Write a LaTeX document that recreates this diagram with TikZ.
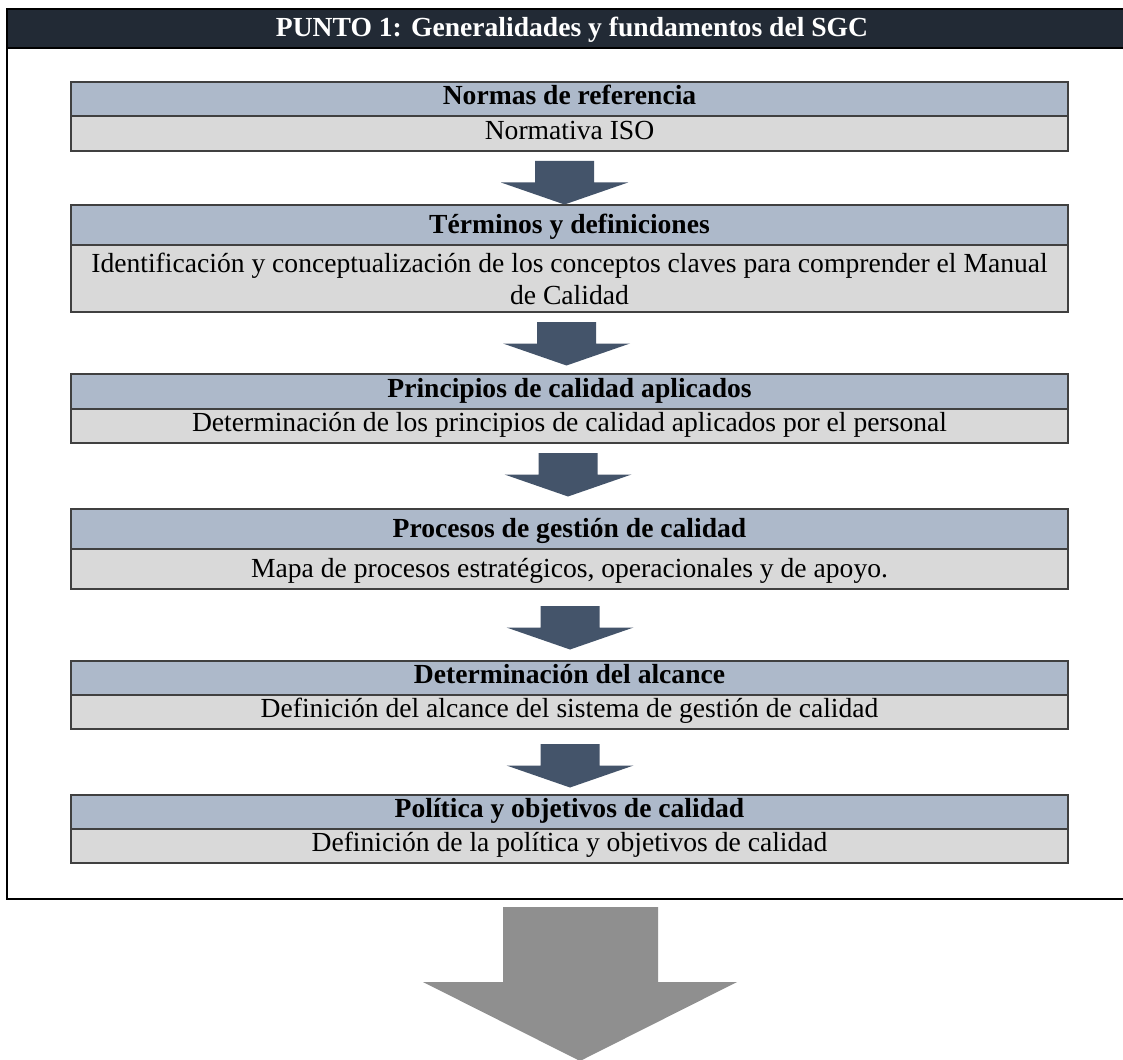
\documentclass[tikz,border=0pt]{standalone}
\usepackage{fontspec}
\setmainfont{Liberation Serif}
\definecolor{titlebar}{HTML}{222A35}
\definecolor{headfill}{HTML}{ADB9CA}
\definecolor{bodyfill}{HTML}{D9D9D9}
\definecolor{boxline}{HTML}{404040}
\definecolor{stepblue}{HTML}{44546A}
\definecolor{biggray}{HTML}{8F8F8F}
\begin{document}
\begin{tikzpicture}[x=1pt,y=-1pt,
  every node/.style={inner sep=0pt, outer sep=0pt},
  txt/.style={font=\fontsize{27.6}{32}\selectfont},
  band/.style={draw=boxline, line width=1.4pt, minimum width=997pt, txt, text depth=7pt},
  headband/.style={band, fill=headfill, font=\fontsize{27.6}{32}\selectfont\bfseries},
  bodyband/.style={band, fill=bodyfill},
  pics/flowdown/.style={code={
    \fill[stepblue] (-29.5,0) -- (29.5,0) -- (29.5,21.5) -- (63.5,21.5)
      -- (0,43.5) -- (-63.5,21.5) -- (-29.5,21.5) -- cycle;
  }}
]
\useasboundingbox (0,0) rectangle (1123,1059);
\fill[white] (0,0) rectangle (1123,1059);

% outer frame and title bar
\draw[black, line width=2.6pt] (7,9) rectangle (1140,899);
\draw[black, line width=2pt, fill=titlebar] (7,9) rectangle (1140,48);
\node[anchor=base, text=white, font=\fontsize{27.6}{32}\selectfont\bfseries] (title) at (572,37)
  {PUNTO 1: Generalidades y fundamentos del SGC};

% step 1
\node[headband, minimum height=34pt, text height=18pt] (h1) at (569.5,99) {Normas de referencia};
\node[bodyband, minimum height=35pt, text height=19pt] (b1) at (569.5,133.5) {Normativa ISO};

% step 2
\node[headband, minimum height=40pt, text height=24pt] (h2) at (569.5,225) {Términos y definiciones};
\node[bodyband, minimum height=67pt, text depth=, align=center] (b2) at (569.5,278.5)
  {Identificación y conceptualización de los conceptos claves para comprender el Manual\\de Calidad};

% step 3
\node[headband, minimum height=35pt, text height=19pt] (h3) at (569.5,391.5) {Principios de calidad aplicados};
\node[bodyband, minimum height=34pt, text height=18pt] (b3) at (569.5,426)
  {Determinación de los principios de calidad aplicados por el personal};

% step 4
\node[headband, minimum height=40pt, text height=24pt] (h4) at (569.5,529) {Procesos de gestión de calidad};
\node[bodyband, minimum height=40pt, text height=24pt] (b4) at (569.5,569)
  {Mapa de procesos estratégicos, operacionales y de apoyo.};

% step 5
\node[headband, minimum height=34pt, text height=18pt] (h5) at (569.5,678) {Determinación del alcance};
\node[bodyband, minimum height=34pt, text height=18pt] (b5) at (569.5,712)
  {Definición del alcance del sistema de gestión de calidad};

% step 6
\node[headband, minimum height=34pt, text height=18pt] (h6) at (569.5,812) {Política y objetivos de calidad};
\node[bodyband, minimum height=34pt, text height=18pt] (b6) at (569.5,846)
  {Definición de la política y objetivos de calidad};

% arrows between the steps
\pic at (564.5,161) {flowdown};
\pic at (566.5,322) {flowdown};
\pic at (568,453) {flowdown};
\pic at (570,606) {flowdown};
\pic at (570,744) {flowdown};

% large outgoing arrow
\fill[biggray] (503,907) -- (658,907) -- (658,982) -- (737,982) -- (580,1061)
  -- (423,982) -- (503,982) -- cycle;
\end{tikzpicture}
\end{document}
